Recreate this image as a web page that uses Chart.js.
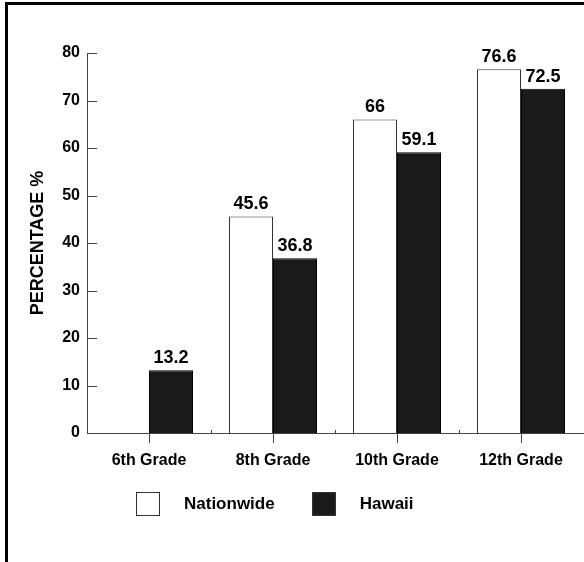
<!DOCTYPE html>
<html>
<head>
<meta charset="utf-8">
<script src="https://cdn.jsdelivr.net/npm/chart.js@4/dist/chart.umd.min.js"></script>
<style>
  html, body { margin: 0; padding: 0; background: #fff; }
  #wrap { position: relative; width: 584px; height: 562px; overflow: hidden; font-family: "Liberation Sans", Arial, sans-serif; }
  #frame { position: absolute; left: 5px; top: 2px; width: 600px; height: 600px; border-left: 3px solid #000; border-top: 3px solid #000; pointer-events: none; }
  #chart { position: absolute; left: 0; top: 0; }
  #legend { position: absolute; left: 136px; top: 492px; height: 24px; display: flex; align-items: center; font-weight: bold; font-size: 17px; color: #000; }
  #legend .box { width: 22px; height: 22px; border: 1px solid #333; margin-right: 24px; }
  #legend .txt { margin-right: 37px; }
</style>
</head>
<body>
<div id="wrap">
  <canvas id="chart" width="584" height="562"></canvas>
  <div id="frame"></div>
  <div id="legend"></div>
</div>
<script>
// ---------------------------------------------------------
// DATA
// ---------------------------------------------------------
const grades = ['6th Grade', '8th Grade', '10th Grade', '12th Grade'];
const nationwide = [null, 45.6, 66, 76.6];
const hawaii = [13.2, 36.8, 59.1, 72.5];
const yTicks = [0, 10, 20, 30, 40, 50, 60, 70, 80];

const FONT = '"Liberation Sans", Arial, sans-serif';

// value labels above each bar
const barLabels = {
    id: 'barLabels',
    afterDatasetsDraw(chart) {
        const ctx = chart.ctx;
        ctx.save();
        ctx.font = 'bold 18px ' + FONT;
        ctx.fillStyle = '#000';
        ctx.textAlign = 'center';
        ctx.textBaseline = 'bottom';
        chart.data.datasets.forEach((ds, di) => {
            const meta = chart.getDatasetMeta(di);
            meta.data.forEach((bar, i) => {
                const v = ds.data[i];
                if (v === null || v === undefined) return;
                ctx.fillText(String(v), bar.x, bar.y - 3);
            });
        });
        ctx.restore();
    }
};

// inward ticks on the y axis, small marks at category boundaries on x
const axisMarks = {
    id: 'axisMarks',
    afterDraw(chart) {
        const ctx = chart.ctx;
        const y = chart.scales.y;
        const x = chart.scales.x;
        const area = chart.chartArea;
        ctx.save();
        ctx.strokeStyle = '#444';
        ctx.lineWidth = 1;
        ctx.beginPath();
        y.ticks.forEach(t => {
            const py = Math.round(y.getPixelForValue(t.value)) + 0.5;
            ctx.moveTo(area.left, py);
            ctx.lineTo(area.left + 10, py);
        });
        for (let i = 0; i < grades.length - 1; i++) {
            const px = Math.round((x.getPixelForValue(i) + x.getPixelForValue(i + 1)) / 2) + 0.5;
            ctx.moveTo(px, area.bottom);
            ctx.lineTo(px, area.bottom - 3);
        }
        ctx.stroke();
        ctx.restore();
    }
};

const chart = new Chart(document.getElementById('chart'), {
    type: 'bar',
    data: {
        labels: grades,
        datasets: [
            { label: 'Nationwide', data: nationwide, backgroundColor: '#ffffff', borderColor: '#333', borderWidth: 1 },
            { label: 'Hawaii', data: hawaii, backgroundColor: '#1a1a1a', borderColor: '#000', borderWidth: 1 }
        ]
    },
    options: {
        responsive: false,
        animation: false,
        layout: { padding: { left: 0, top: 53, right: 1, bottom: 0 } },
        plugins: { legend: { display: false }, tooltip: { enabled: false } },
        datasets: { bar: { categoryPercentage: 0.71, barPercentage: 1.0 } },
        scales: {
            x: {
                grid: { offset: false, drawOnChartArea: false, tickLength: 10, color: '#444' },
                border: { display: true, color: '#444', width: 1 },
                ticks: { color: '#000', font: { family: FONT, size: 16, weight: 'bold' }, padding: 8, maxRotation: 0 },
                afterFit(scale) { scale.height = 129; }
            },
            y: {
                min: 0,
                max: 80,
                afterBuildTicks(scale) { scale.ticks = yTicks.map(v => ({ value: v })); },
                grid: { display: false, drawTicks: false },
                border: { display: true, color: '#444', width: 1 },
                ticks: { color: '#000', font: { family: FONT, size: 16, weight: 'bold' }, padding: 7 },
                title: {
                    display: true,
                    text: 'PERCENTAGE %',
                    color: '#000',
                    font: { family: FONT, size: 18, weight: 'bold', lineHeight: 1.2 },
                    padding: { top: 27, bottom: 0 }
                },
                afterFit(scale) { scale.width = 87; }
            }
        }
    },
    plugins: [barLabels, axisMarks]
});

// legend built from the datasets
const legend = document.getElementById('legend');
chart.data.datasets.forEach(ds => {
    const box = document.createElement('div');
    box.className = 'box';
    box.style.background = ds.backgroundColor;
    const txt = document.createElement('div');
    txt.className = 'txt';
    txt.textContent = ds.label;
    legend.appendChild(box);
    legend.appendChild(txt);
});
</script>
</body>
</html>
